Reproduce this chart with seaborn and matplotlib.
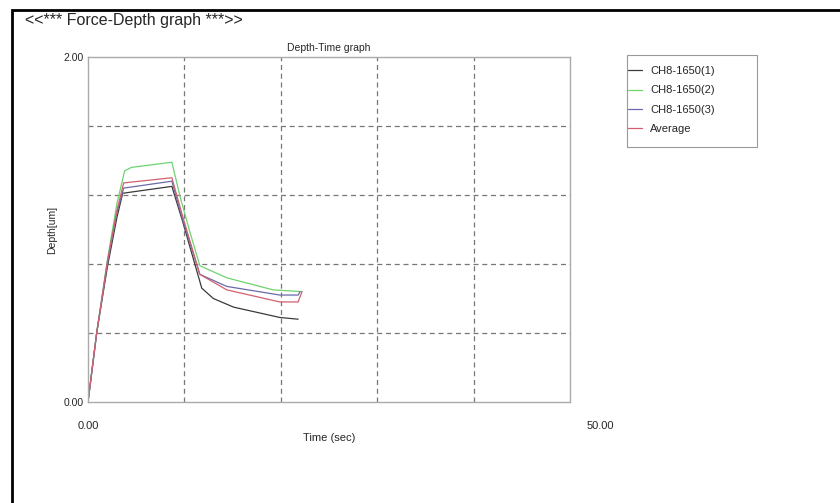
"""
Depth-Time graph (Force-Depth report page)
"""

import pandas as pd
import numpy as np
import matplotlib
matplotlib.use('Agg')
import matplotlib.pyplot as plt
from matplotlib.patches import Rectangle
from matplotlib.lines import Line2D
import seaborn as sns

sns.set_style('white')
plt.rcParams['font.family'] = ['Liberation Sans', 'DejaVu Sans']

# Data (time in sec, depth in um)
samples = ['CH8-1650(1)', 'CH8-1650(2)', 'CH8-1650(3)', 'Average']

time_1 = [0, 0.9, 2.0, 3.0, 3.6, 8.7, 9.8, 11.8, 13.0, 15.1, 17.5, 19.9, 21.8]
depth_1 = [0, 0.40, 0.78, 1.07, 1.21, 1.25, 1.05, 0.66, 0.60, 0.55, 0.52, 0.49, 0.48]

time_2 = [0, 0.9, 2.0, 3.0, 3.8, 4.5, 8.7, 9.6, 10.6, 11.6, 14.4, 19.2, 22.2]
depth_2 = [0, 0.40, 0.82, 1.15, 1.34, 1.36, 1.39, 1.18, 0.98, 0.79, 0.72, 0.65, 0.64]

time_3 = [0, 0.9, 2.0, 3.0, 3.7, 8.7, 9.8, 11.6, 14.4, 19.9, 21.8, 22.0]
depth_3 = [0, 0.40, 0.80, 1.10, 1.24, 1.28, 1.06, 0.74, 0.67, 0.62, 0.62, 0.64]

time_avg = [0, 0.9, 2.0, 3.0, 3.7, 8.7, 9.8, 11.6, 14.4, 19.9, 21.8, 22.2]
depth_avg = [0, 0.40, 0.81, 1.11, 1.27, 1.30, 1.08, 0.74, 0.65, 0.58, 0.58, 0.64]

x_tick_labels = ['0.00', '50.00']
y_ticks = [0, 2]
y_tick_labels = ['0.00', '2.00']

colors = {
    'CH8-1650(1)': '#3a3a3a',
    'CH8-1650(2)': '#6fd36f',
    'CH8-1650(3)': '#6a6aa8',
    'Average': '#d06070',
}

frames = []
for name, t, d in zip(samples, [time_1, time_2, time_3, time_avg],
                      [depth_1, depth_2, depth_3, depth_avg]):
    frames.append(pd.DataFrame({'Time': t, 'Depth': d, 'Sample': name}))
df = pd.concat(frames, ignore_index=True)

W, H = 840, 503
fig = plt.figure(figsize=(W / 100, H / 100), dpi=100)
ax = fig.add_axes([88 / W, 1 - 402 / H, (570 - 88) / W, (402 - 57) / H])

sns.lineplot(data=df, x='Time', y='Depth', hue='Sample', hue_order=samples,
             palette=colors, sort=False, estimator=None, linewidth=0.9,
             legend=False, ax=ax)

ax.set_xlim(0, 50)
ax.set_ylim(0, 2)

# dashed grid
for gx in np.arange(10, 50, 10):
    ax.axvline(gx, color='#777777', linestyle=(0, (4, 3)), linewidth=0.9, zorder=0)
for gy in np.arange(0.4, 2.0, 0.4):
    ax.axhline(gy, color='#777777', linestyle=(0, (4, 3)), linewidth=0.9, zorder=0)

for s in ax.spines.values():
    s.set_color('#aaaaaa')
    s.set_linewidth(1.0)

ax.set_xticks([])
ax.set_yticks(y_ticks)
ax.set_yticklabels(y_tick_labels, fontsize=7.5)
ax.tick_params(axis='y', length=0, pad=3)
ax.set_xlabel('')
ax.set_ylabel('Depth[um]', fontsize=7.5, labelpad=5)

# x tick labels sit below the axis, the end one pushed right
ax.text(0, -0.07, x_tick_labels[0], transform=ax.transAxes, ha='center', va='center', fontsize=8)
ax.text(1.062, -0.07, x_tick_labels[1], transform=ax.transAxes, ha='center', va='center', fontsize=8)
ax.text(0.5, -0.105, 'Time (sec)', transform=ax.transAxes, ha='center', va='center', fontsize=8)

ax.set_title('Depth-Time graph', fontsize=7.5, pad=4)

# legend: entries without frame, box drawn separately to match the page
handles = [Line2D([0], [0], color=colors[s], lw=0.9) for s in samples]
fig.legend(handles, samples, loc='upper left',
           bbox_to_anchor=(628 / W, 1 - 66 / H), fontsize=8,
           frameon=False, handlelength=1.3, handletextpad=0.7,
           labelspacing=0.85, borderpad=0, borderaxespad=0)
fig.add_artist(Rectangle((627 / W, 1 - 147 / H), 130 / W, 92 / H,
                         transform=fig.transFigure, fill=False,
                         edgecolor='#999999', linewidth=0.8))

fig.text(25 / W, 1 - 20 / H, '<<*** Force-Depth graph ***>>', fontsize=11.5,
         ha='left', va='center')

# page frame (only top and left edges fall inside the image)
fig.add_artist(Rectangle((12 / W, -0.2), 1.2, 1.2 - 10 / H,
                         transform=fig.transFigure, fill=False,
                         edgecolor='black', linewidth=2))

fig.savefig('out.png', dpi=100)
